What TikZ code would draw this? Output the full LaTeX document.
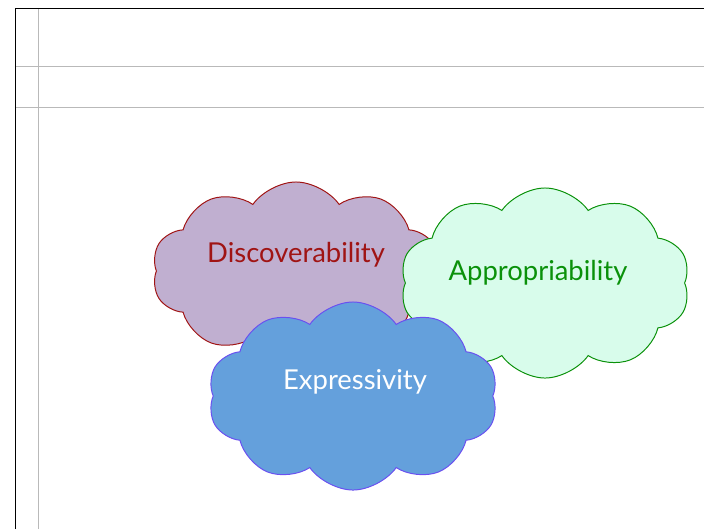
\documentclass[tikz,border=0pt]{standalone}
\usepackage{fontspec}
\setmainfont{Lato}
\usetikzlibrary{shapes.symbols}

\definecolor{discfill}{RGB}{192,175,208}
\definecolor{discline}{RGB}{160,20,20}
\definecolor{apprfill}{RGB}{216,252,235}
\definecolor{apprline}{RGB}{10,145,10}
\definecolor{exprfill}{RGB}{100,160,220}
\definecolor{exprline}{RGB}{106,80,240}
\definecolor{rule}{RGB}{185,185,185}

\begin{document}
\begin{tikzpicture}[
x=0.025cm, y=-0.025cm,
puff/.style={cloud, cloud puffs=10, cloud puff arc=110, cloud ignores aspect, minimum width=7.2cm, minimum height=4.5cm, line width=0.7pt},
word/.style={font=\fontsize{19.5}{22}\selectfont}
]
\useasboundingbox (0,0) rectangle (704,529);

% page frame and guide lines
\draw[rule, line width=0.7pt] (38,8) -- (38,529);
\draw[rule, line width=0.7pt] (15,66) -- (704,66);
\draw[rule, line width=0.7pt] (15,107) -- (704,107);
\draw[black, line width=1.2pt] (15.5,529) -- (15.5,8.5) -- (704,8.5);

\node[puff, fill=discfill, draw=discline, minimum width=7.2cm, minimum height=4.45cm] (disc) at (296,271) {};
\node[word, text=discline] (disc text) at (296,255) {Discoverability};

\node[puff, fill=apprfill, draw=apprline, minimum width=7.25cm, minimum height=4.75cm] (appr) at (545,283) {};
\node[word, text=apprline] (appr text) at (538,273) {Appropriability};

\node[puff, fill=exprfill, draw=exprline, minimum width=7.25cm, minimum height=4.7cm] (expr) at (353,396) {};
\node[word, text=white] (expr text) at (355,382) {Expressivity};

\end{tikzpicture}
\end{document}
